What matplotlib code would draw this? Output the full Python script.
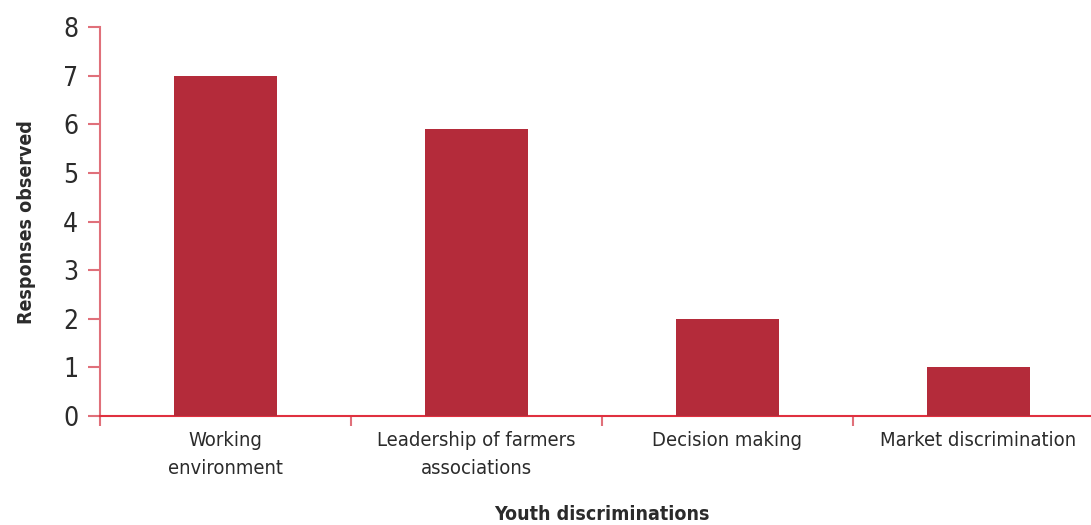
import matplotlib
matplotlib.use("Agg")
import matplotlib.pyplot as plt

categories = ["Working\nenvironment", "Leadership of farmers\nassociations", "Decision making", "Market discrimination"]
values = [7, 5.9, 2, 1]
yticks = [0, 1, 2, 3, 4, 5, 6, 7, 8]

plt.rcParams['font.family'] = ['DejaVu Sans']
plt.rcParams['font.stretch'] = 'condensed'

bar_color = "#B42B3A"
axis_color = "#E0303F"
tick_color = "#E0707A"
text_color = "#2B2B2B"

fig = plt.figure(figsize=(10.91, 5.25), dpi=100)
ax = fig.add_axes([100/1091, 109/525, 1004/1091, 389/525])
x = list(range(len(categories)))
ax.bar(x, values, width=0.41, color=bar_color, zorder=3)
ax.set_xlim(-0.5, 3.5)
ax.set_ylim(0, 8)
ax.set_yticks(yticks)
ax.set_yticklabels([str(t) for t in yticks])
ax.set_xticks([i - 0.5 for i in range(len(categories))], minor=False)
ax.set_xticklabels([])
ax.set_xticks(x, minor=True)
ax.set_xticklabels(categories, minor=True, linespacing=1.55)
ax.tick_params(axis='x', which='minor', length=0, pad=11, labelsize=14.5, labelcolor=text_color)
ax.tick_params(axis='x', which='major', length=7.2, color=tick_color, width=1.5, direction='out')
ax.tick_params(axis='y', length=8.6, color=tick_color, width=1.5, direction='out', pad=7,
               labelsize=19, labelcolor=text_color)
for s in ['top', 'right']:
    ax.spines[s].set_visible(False)
ax.spines['left'].set_color(tick_color)
ax.spines['left'].set_linewidth(1.5)
ax.spines['bottom'].set_color(axis_color)
ax.spines['bottom'].set_linewidth(1.5)
fig.text(27/1091, 1 - 222/525, "Responses observed", rotation=90, fontsize=14, fontweight='bold',
         color=text_color, ha='center', va='center')
fig.text(602/1091, 1 - 515/525, "Youth discriminations", fontsize=14, fontweight='bold',
         color=text_color, ha='center', va='center')
fig.savefig("out.png", dpi=100)
